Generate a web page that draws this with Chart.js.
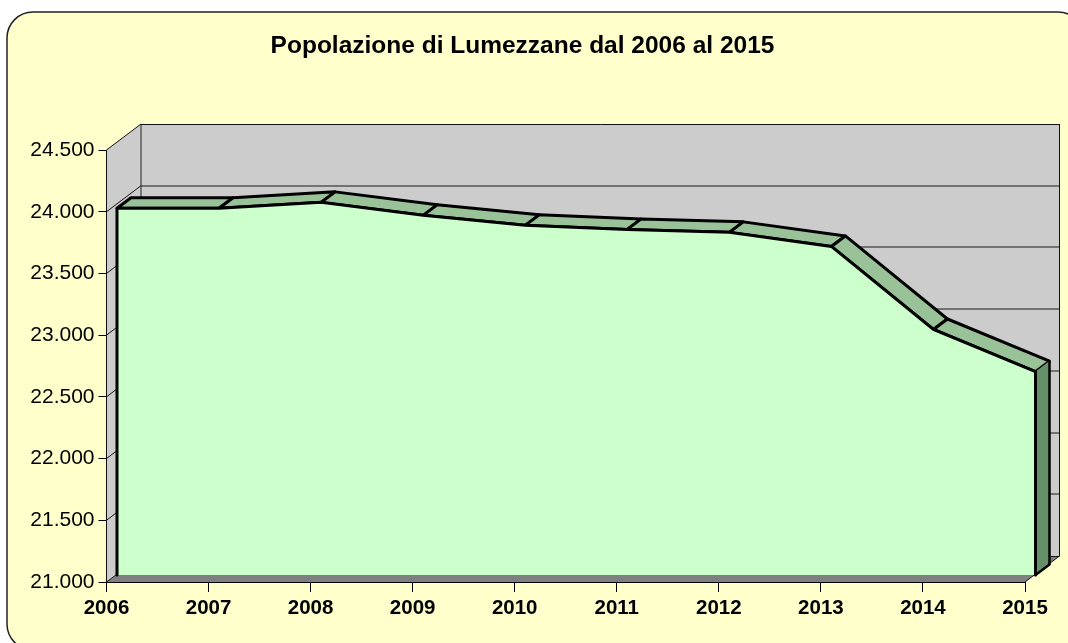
<!DOCTYPE html>
<html><head><meta charset="utf-8">
<style>html,body{margin:0;padding:0;background:#fff}canvas{display:block}</style>
<script src="https://cdn.jsdelivr.net/npm/chart.js@4"></script>
</head><body>
<canvas id="c" width="1068" height="643"></canvas>
<script>
const categories = ['2006','2007','2008','2009','2010','2011','2012','2013','2014','2015'];
const population = [23971,23971,24019,23914,23833,23800,23776,23662,22989,22648];
const titleText = 'Popolazione di Lumezzane dal 2006 al 2015';
const yMin = 21000, yMax = 24500, yStep = 500;

const WALL = {dx:34.5, dy:-26};
const AREA = {dx:10.5, dy:-7};
const THICK = {dx:14, dy:-10.5};
const fmt = v => String(v).replace(/\B(?=(\d{3})+$)/g,'.');

function poly(ctx, pts, fill, stroke, lw){
  ctx.beginPath();
  pts.forEach((p,i)=> i?ctx.lineTo(p[0],p[1]):ctx.moveTo(p[0],p[1]));
  ctx.closePath();
  if(fill){ctx.fillStyle=fill;ctx.fill();}
  if(stroke){ctx.strokeStyle=stroke;ctx.lineWidth=lw||1;ctx.lineJoin='round';ctx.stroke();}
}
function seg(ctx,a,b,color,lw){
  ctx.beginPath();ctx.moveTo(a[0],a[1]);ctx.lineTo(b[0],b[1]);
  ctx.strokeStyle=color;ctx.lineWidth=lw||1;ctx.stroke();
}
const frame = {
  id:'frame',
  beforeDraw(chart){
    const c=chart.ctx;
    c.save();
    c.fillStyle='#fff';c.fillRect(0,0,1068,643);
    c.beginPath();c.roundRect(7,12,1077,638,26);
    c.fillStyle='#FFFFCC';c.fill();
    c.strokeStyle='#222';c.lineWidth=1.5;c.stroke();
    c.restore();
  }
};
const depth3d = {
  id:'depth3d',
  beforeDatasetsDraw(chart){
    const c=chart.ctx, x=chart.scales.x, y=chart.scales.y;
    const L=x.left,R=x.right,T=y.getPixelForValue(yMax),B=y.getPixelForValue(yMin);
    const W=WALL;
    c.save();
    // floor
    poly(c,[[L,B],[L+W.dx,B+W.dy],[R+W.dx,B+W.dy],[R,B]],'#808080');
    // side wall + back wall
    poly(c,[[L,T],[L+W.dx,T+W.dy],[L+W.dx,B+W.dy],[L,B]],'#CCCCCC');
    poly(c,[[L+W.dx,T+W.dy],[R+W.dx,T+W.dy],[R+W.dx,B+W.dy],[L+W.dx,B+W.dy]],'#CCCCCC');
    // gridlines
    for(let v=yMin;v<=yMax;v+=yStep){
      const p=y.getPixelForValue(v);
      seg(c,[L,p],[L+W.dx,p+W.dy],'#111',1);
      const edge=(v===yMax||v===yMin);
      seg(c,[L+W.dx,Math.round(p+W.dy)+(edge?.5:0)],[R+W.dx,Math.round(p+W.dy)+(edge?.5:0)],edge?'#111':'#555',edge?1:1.6);
    }
    seg(c,[L,T],[L,B],'#111',1);
    seg(c,[L+W.dx,T+W.dy],[L+W.dx,B+W.dy],'#222',1);
    seg(c,[R+W.dx,T+W.dy],[R+W.dx,B+W.dy],'#111',1);
    seg(c,[R,B],[R+W.dx,B+W.dy],'#111',1);
    // top strip of the area
    const meta=chart.getDatasetMeta(0).data;
    const pts=meta.map(e=>[e.x+AREA.dx,e.y+AREA.dy]);
    const th=THICK;
    for(let i=0;i<pts.length-1;i++){
      const a=pts[i],b=pts[i+1];
      poly(c,[a,b,[b[0]+th.dx,b[1]+th.dy],[a[0]+th.dx,a[1]+th.dy]],'#99C299','#000',3);
    }
    // right face
    const last=pts[pts.length-1], bot=B+AREA.dy;
    poly(c,[last,[last[0]+th.dx,last[1]+th.dy],[last[0]+th.dx,bot+th.dy],[last[0],bot]],'#669069');
    seg(c,[last[0]+th.dx,last[1]+th.dy],[last[0]+th.dx,bot+th.dy],'#000',2.5);
    c.restore();
    c.save();
    c.translate(AREA.dx,AREA.dy);
  },
  afterDatasetsDraw(chart){
    const c=chart.ctx, y=chart.scales.y;
    c.restore();
    const meta=chart.getDatasetMeta(0).data;
    const bot=y.getPixelForValue(yMin)+AREA.dy;
    const a=meta[0], b=meta[meta.length-1];
    c.save();
    c.lineCap='round';
    seg(c,[a.x+AREA.dx,a.y+AREA.dy],[a.x+AREA.dx,bot],'#000',3);
    seg(c,[b.x+AREA.dx,b.y+AREA.dy],[b.x+AREA.dx,bot],'#000',3);
    seg(c,[b.x+AREA.dx,bot],[b.x+AREA.dx+THICK.dx,bot+THICK.dy],'#000',2.5);
    c.restore();
  }
};
new Chart(document.getElementById('c'),{
  type:'line',
  data:{labels:categories,datasets:[{
    data:population,fill:'start',backgroundColor:'#CCFFCC',borderColor:'#000',borderWidth:3,
    pointRadius:0,tension:0,clip:false
  }]},
  plugins:[frame,depth3d],
  options:{
    responsive:false,animation:false,
    layout:{padding:{left:20,right:43,top:0,bottom:0}},
    plugins:{
      legend:{display:false},tooltip:{enabled:false},
      title:{display:true,text:titleText,color:'#000',
        font:{family:'"Liberation Sans"',size:24.5,weight:'bold',lineHeight:1.2},
        padding:{top:32,bottom:88.6}}
    },
    scales:{
      x:{offset:false,
        afterFit(s){s.height=61;},
        grid:{drawOnChartArea:false,drawTicks:true,tickLength:10,color:'#000'},
        border:{color:'#000'},
        ticks:{autoSkip:false,maxRotation:0,color:'#000',padding:4,font:{family:'"Liberation Sans"',size:20.5,weight:'bold'}}
      },
      y:{min:yMin,max:yMax,
        afterFit(s){s.width=86.5;},
        grid:{drawOnChartArea:false,drawTicks:true,tickLength:8,color:'#000'},
        border:{color:'#000'},
        afterBuildTicks(s){s.ticks=[];for(let v=yMin;v<=yMax;v+=yStep)s.ticks.push({value:v});},
        ticks:{color:'#000',padding:4,callback:fmt,font:{family:'"Liberation Sans"',size:21}}
      }
    }
  }
});
</script>
</body></html>
